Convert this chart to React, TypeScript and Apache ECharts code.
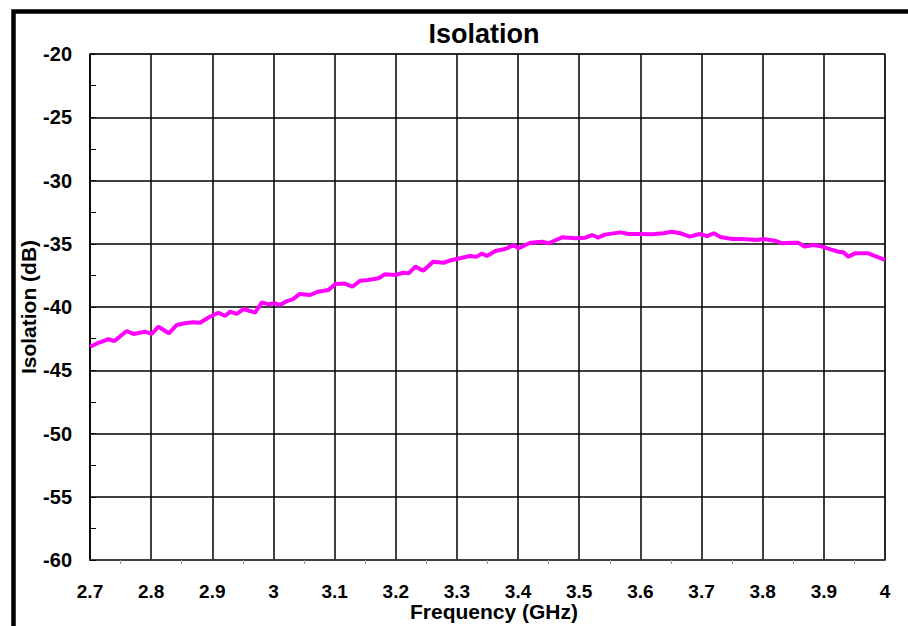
import React, { useEffect, useRef } from "react";
import * as echarts from "echarts";

const freqGHz = [
  2.7, 2.716, 2.73, 2.74, 2.76, 2.771, 2.79, 2.801, 2.812, 2.829, 2.842, 2.855, 2.869, 2.88, 2.896, 2.91,
  2.921, 2.929, 2.94, 2.951, 2.97, 2.981, 2.992, 3.003, 3.011, 3.022, 3.032, 3.043, 3.06, 3.073, 3.09,
  3.101, 3.117, 3.129, 3.142, 3.155, 3.172, 3.182, 3.199, 3.212, 3.221, 3.232, 3.245, 3.261, 3.278, 3.292,
  3.305, 3.321, 3.332, 3.341, 3.349, 3.363, 3.379, 3.393, 3.401, 3.42, 3.439, 3.45, 3.472, 3.494, 3.51,
  3.521, 3.531, 3.542, 3.567, 3.581, 3.597, 3.619, 3.638, 3.651, 3.665, 3.681, 3.697, 3.709, 3.72, 3.731,
  3.75, 3.768, 3.79, 3.801, 3.82, 3.831, 3.848, 3.858, 3.869, 3.883, 3.897, 3.911, 3.924, 3.932, 3.94,
  3.951, 3.973, 3.984, 4.0,
];

const isolationDb = [
  -43.14, -42.79, -42.55, -42.69, -41.9, -42.13, -41.95, -42.13, -41.56, -42.08, -41.42, -41.29, -41.21,
  -41.24, -40.77, -40.45, -40.71, -40.37, -40.55, -40.16, -40.45, -39.63, -39.79, -39.71, -39.84, -39.53,
  -39.37, -38.97, -39.05, -38.79, -38.66, -38.18, -38.15, -38.4, -37.92, -37.87, -37.73, -37.42, -37.47,
  -37.29, -37.34, -36.81, -37.13, -36.42, -36.5, -36.28, -36.15, -35.97, -36.02, -35.78, -35.97, -35.57,
  -35.42, -35.1, -35.36, -34.92, -34.84, -34.96, -34.49, -34.57, -34.52, -34.31, -34.52, -34.28, -34.1,
  -34.23, -34.23, -34.25, -34.17, -34.05, -34.17, -34.44, -34.23, -34.4, -34.17, -34.46, -34.62, -34.62,
  -34.7, -34.62, -34.76, -34.96, -34.92, -34.92, -35.23, -35.1, -35.23, -35.44, -35.63, -35.68, -36.02,
  -35.76, -35.76, -35.97, -36.28,
];

const xTicks = { min: 2.7, max: 4.0, step: 0.1 };
const yTicks = { min: -60, max: -20, step: 5 };

const FONT = "'Liberation Sans', Arial, sans-serif";

export default function App() {
  const ref = useRef<HTMLDivElement>(null);

  useEffect(() => {
    document.body.style.margin = "0";
    document.body.style.overflow = "hidden";
    if (!ref.current) return;
    const chart = echarts.init(ref.current, undefined, { renderer: "svg" });
    const data = freqGHz.map((f, i) => [f, isolationDb[i]]);
    chart.setOption({
      animation: false,
      backgroundColor: "#ffffff",
      title: {
        text: "Isolation",
        left: 479,
        top: 15,
        textAlign: "center",
        textStyle: { fontFamily: FONT, fontWeight: "bold", fontSize: 27, color: "#000" },
      },
      grid: {
        left: 90,
        top: 54,
        width: 795,
        height: 506,
        outerBoundsMode: "none",
        containLabel: false,
        show: true,
        borderColor: "#888",
        borderWidth: 1.5,
        backgroundColor: "transparent",
      },
      xAxis: {
        type: "value",
        min: xTicks.min,
        max: xTicks.max,
        interval: xTicks.step,
        name: "Frequency (GHz)",
        nameLocation: "middle",
        nameGap: 41,
        nameMoveOverlap: false,
        nameTextStyle: {
          fontFamily: FONT,
          fontWeight: "bold",
          fontSize: 21,
          lineHeight: 21,
          color: "#000",
          padding: [0, 0, 0, 13],
        },
        axisLine: { show: true, lineStyle: { color: "#444", width: 1.5 } },
        axisTick: { show: false },
        minorTick: { show: true, splitNumber: 2, length: 4, lineStyle: { color: "#999", width: 1 } },
        axisLabel: {
          margin: 22,
          fontFamily: FONT,
          fontWeight: "bold",
          fontSize: 19,
          lineHeight: 19,
          color: "#000",
          formatter: (v: number) => String(Math.round(v * 10) / 10),
        },
        splitLine: { show: true, lineStyle: { color: "#000", width: 1.5 } },
      },
      yAxis: {
        type: "value",
        min: yTicks.min,
        max: yTicks.max,
        interval: yTicks.step,
        name: "Isolation (dB)",
        nameLocation: "middle",
        nameGap: 51,
        nameMoveOverlap: false,
        nameRotate: 90,
        nameTextStyle: { fontFamily: FONT, fontWeight: "bold", fontSize: 21, color: "#000" },
        axisLine: { show: true, lineStyle: { color: "#000", width: 1.5 } },
        axisTick: { show: true, inside: true, length: 6, lineStyle: { color: "#000", width: 1 } },
        minorTick: { show: true, splitNumber: 2, length: 6, lineStyle: { color: "#000", width: 1 } },
        axisLabel: {
          margin: 18,
          fontFamily: FONT,
          fontWeight: "bold",
          fontSize: 20,
          color: "#000",
        },
        splitLine: { show: true, lineStyle: { color: "#000", width: 1.5 } },
      },
      graphic: [
        {
          type: "rect",
          left: 11,
          top: 9,
          shape: { x: 0, y: 0, width: 940, height: 660 },
          style: { fill: "none", stroke: "#000", lineWidth: 4.5 },
          silent: true,
        },
      ],
      series: [
        {
          type: "line",
          data,
          showSymbol: false,
          symbol: "none",
          lineStyle: { color: "#FF00FF", width: 4 },
        },
      ],
    });
    return () => chart.dispose();
  }, []);

  return <div ref={ref} style={{ width: 908, height: 626 }} />;
}
